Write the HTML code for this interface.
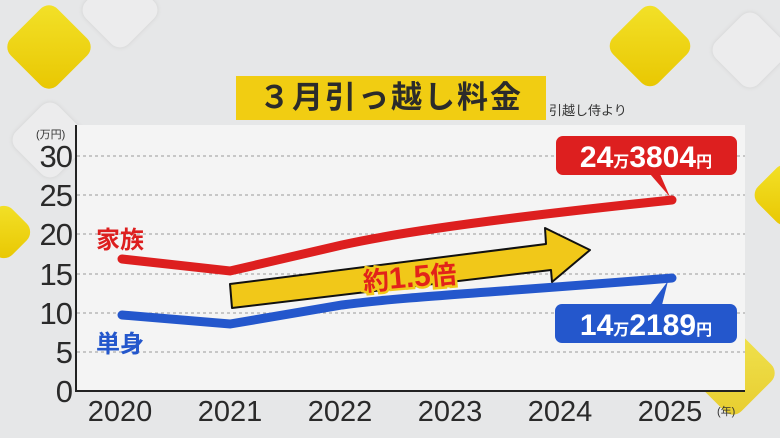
<!DOCTYPE html>
<html><head><meta charset="utf-8"><style>
html,body{margin:0;width:780px;height:438px;overflow:hidden;}
body{background:#e6e7e8;position:relative;font-family:"Liberation Sans","Noto Sans CJK JP",sans-serif;}
.d{position:absolute;transform:rotate(45deg);border-radius:12px;}
.y{background:linear-gradient(135deg,#f3e22a,#e8c600);}
.g{background:#ececed;box-shadow:0 0 4px #d0d0d0;}
</style></head><body>
<div style="position:absolute;left:0;top:0;width:780px;height:438px;overflow:hidden">
<div class="d g" style="left:90px;top:-20px;width:60px;height:60px"></div>
<div class="d y" style="left:16px;top:14px;width:66px;height:66px"></div>
<div class="d g" style="left:20px;top:110px;width:60px;height:60px"></div>
<div class="d y" style="left:-18px;top:210px;width:44px;height:44px"></div>
<div class="d g" style="left:720px;top:20px;width:60px;height:60px"></div>
<div class="d y" style="left:618px;top:14px;width:64px;height:64px"></div>
<div class="d y" style="left:760px;top:170px;width:50px;height:50px"></div>
<div class="d y" style="left:700px;top:340px;width:66px;height:66px;opacity:.8"></div>
</div>
<div style="position:absolute;left:236px;top:76px;width:310px;height:44px;background:#f1cd12"></div>
<div style="position:absolute;left:236px;top:76px;width:310px;height:44px;text-align:center;font-size:31px;font-weight:bold;line-height:44px;color:#2b2b2b;letter-spacing:2px">３月引っ越し料金</div>
<div style="position:absolute;left:549px;top:100px;font-size:13px;color:#333">引越し侍より</div>
<svg width="780" height="438" style="position:absolute;left:0;top:0">
<rect x="76" y="125" width="669" height="266" fill="#f4f4f4"/>
<g stroke="#9a9a9a" stroke-dasharray="3,3" stroke-width="1">
<line x1="77" x2="745" y1="156" y2="156"/><line x1="77" x2="745" y1="195" y2="195"/><line x1="77" x2="745" y1="234" y2="234"/><line x1="77" x2="745" y1="274" y2="274"/><line x1="77" x2="745" y1="313" y2="313"/><line x1="77" x2="745" y1="352" y2="352"/></g>
<path d="M76 125V391H745" fill="none" stroke="#222" stroke-width="2"/>
<g font-size="31" fill="#2a2a2a" text-anchor="end" letter-spacing="-1"><text x="72" y="167">30</text><text x="72" y="206">25</text><text x="72" y="245">20</text><text x="72" y="285">15</text><text x="72" y="324">10</text><text x="72" y="363">5</text><text x="72" y="402">0</text></g>
<text x="36" y="138" font-size="11" fill="#333">(万円)</text>
<g font-size="29" fill="#2a2a2a" text-anchor="middle"><text x="120" y="421">2020</text><text x="230" y="421">2021</text><text x="340" y="421">2022</text><text x="450" y="421">2023</text><text x="560" y="421">2024</text><text x="670" y="421">2025</text></g>
<text x="717" y="415" font-size="11" fill="#333">(年)</text>
<path d="M122 259L230 271L342 245C400 232 500 218 672 200" fill="none" stroke="#dd1f1f" stroke-width="9" stroke-linecap="round"/>
<path d="M122 315L230 324L342 305C400 297 500 292 672 278" fill="none" stroke="#2457cc" stroke-width="9" stroke-linecap="round"/>
<path d="M230 284L546 244L545 228L590 250L552 282L551 270L232 308Z" fill="#f1c819" stroke="#111" stroke-width="2" stroke-linejoin="round"/>
<text x="410" y="287" font-size="26" font-weight="bold" fill="#e2231a" stroke="#f1c819" stroke-width="5" paint-order="stroke" text-anchor="middle" transform="rotate(-5 410 280)">約<tspan font-size="30">1.5</tspan>倍</text>
<text x="96" y="248" font-size="24" font-weight="bold" fill="#dd1f1f">家族</text>
<text x="96" y="352" font-size="24" font-weight="bold" fill="#2457cc">単身</text>
<rect x="556" y="136" width="181" height="39" rx="7" fill="#dd1f1f"/><path d="M650 174L670 197L660 174Z" fill="#dd1f1f"/>
<text x="646" y="167" font-size="30" font-weight="bold" fill="#fff" text-anchor="middle">24<tspan font-size="16">万</tspan>3804<tspan font-size="16">円</tspan></text>
<rect x="555" y="304" width="182" height="39" rx="7" fill="#2457cc"/><path d="M650 305L668 281L662 305Z" fill="#2457cc"/>
<text x="646" y="335" font-size="30" font-weight="bold" fill="#fff" text-anchor="middle">14<tspan font-size="16">万</tspan>2189<tspan font-size="16">円</tspan></text>
</svg>
</body></html>
